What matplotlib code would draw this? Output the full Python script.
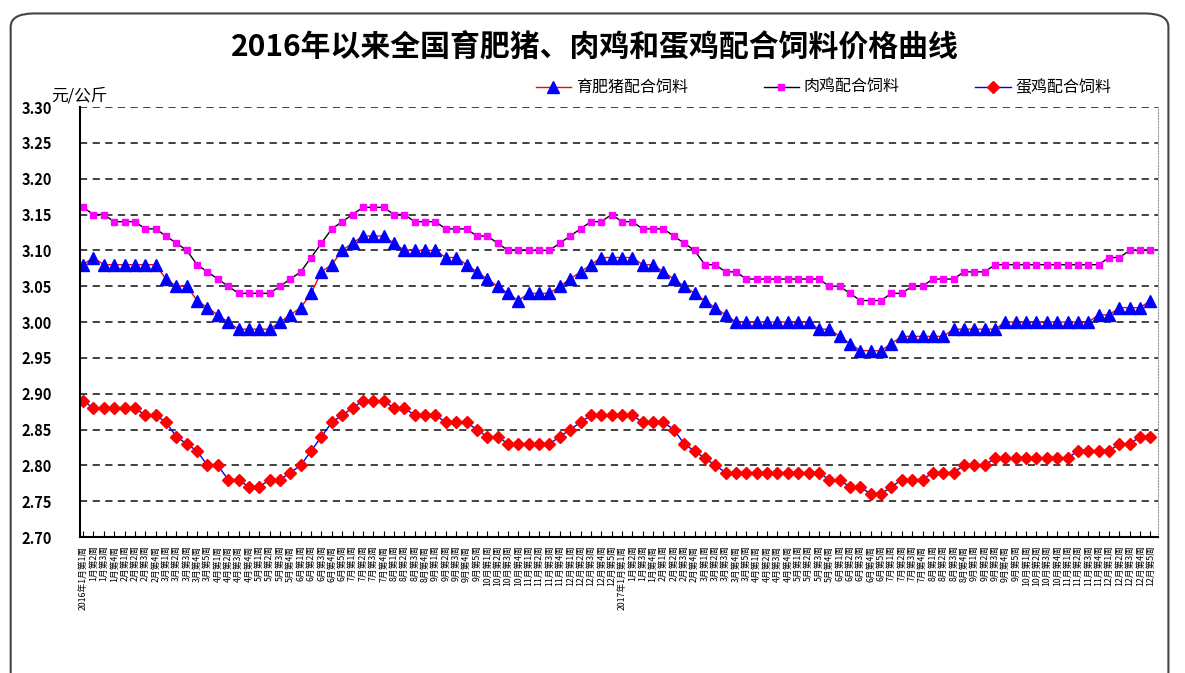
import matplotlib
matplotlib.use('Agg')
import matplotlib.pyplot as plt
from matplotlib.patches import FancyBboxPatch

plt.rcParams['font.family'] = ['Noto Sans CJK SC', 'DejaVu Sans']

# weekly prices, yuan/kg
pig = [3.08, 3.09, 3.08, 3.08, 3.08, 3.08, 3.08, 3.08, 3.06, 3.05,
       3.05, 3.03, 3.02, 3.01, 3.00, 2.99, 2.99, 2.99, 2.99, 3.00,
       3.01, 3.02, 3.04, 3.07, 3.08, 3.10, 3.11, 3.12, 3.12, 3.12,
       3.11, 3.10, 3.10, 3.10, 3.10, 3.09, 3.09, 3.08, 3.07, 3.06,
       3.05, 3.04, 3.03, 3.04, 3.04, 3.04, 3.05, 3.06, 3.07, 3.08,
       3.09, 3.09, 3.09, 3.09, 3.08, 3.08, 3.07, 3.06, 3.05, 3.04,
       3.03, 3.02, 3.01, 3.00, 3.00, 3.00, 3.00, 3.00, 3.00, 3.00,
       3.00, 2.99, 2.99, 2.98, 2.97, 2.96, 2.96, 2.96, 2.97, 2.98,
       2.98, 2.98, 2.98, 2.98, 2.99, 2.99, 2.99, 2.99, 2.99, 3.00,
       3.00, 3.00, 3.00, 3.00, 3.00, 3.00, 3.00, 3.00, 3.01, 3.01,
       3.02, 3.02, 3.02, 3.03]
broiler = [3.16, 3.15, 3.15, 3.14, 3.14, 3.14, 3.13, 3.13, 3.12, 3.11,
           3.10, 3.08, 3.07, 3.06, 3.05, 3.04, 3.04, 3.04, 3.04, 3.05,
           3.06, 3.07, 3.09, 3.11, 3.13, 3.14, 3.15, 3.16, 3.16, 3.16,
           3.15, 3.15, 3.14, 3.14, 3.14, 3.13, 3.13, 3.13, 3.12, 3.12,
           3.11, 3.10, 3.10, 3.10, 3.10, 3.10, 3.11, 3.12, 3.13, 3.14,
           3.14, 3.15, 3.14, 3.14, 3.13, 3.13, 3.13, 3.12, 3.11, 3.10,
           3.08, 3.08, 3.07, 3.07, 3.06, 3.06, 3.06, 3.06, 3.06, 3.06,
           3.06, 3.06, 3.05, 3.05, 3.04, 3.03, 3.03, 3.03, 3.04, 3.04,
           3.05, 3.05, 3.06, 3.06, 3.06, 3.07, 3.07, 3.07, 3.08, 3.08,
           3.08, 3.08, 3.08, 3.08, 3.08, 3.08, 3.08, 3.08, 3.08, 3.09,
           3.09, 3.10, 3.10, 3.10]
layer = [2.89, 2.88, 2.88, 2.88, 2.88, 2.88, 2.87, 2.87, 2.86, 2.84,
         2.83, 2.82, 2.80, 2.80, 2.78, 2.78, 2.77, 2.77, 2.78, 2.78,
         2.79, 2.80, 2.82, 2.84, 2.86, 2.87, 2.88, 2.89, 2.89, 2.89,
         2.88, 2.88, 2.87, 2.87, 2.87, 2.86, 2.86, 2.86, 2.85, 2.84,
         2.84, 2.83, 2.83, 2.83, 2.83, 2.83, 2.84, 2.85, 2.86, 2.87,
         2.87, 2.87, 2.87, 2.87, 2.86, 2.86, 2.86, 2.85, 2.83, 2.82,
         2.81, 2.80, 2.79, 2.79, 2.79, 2.79, 2.79, 2.79, 2.79, 2.79,
         2.79, 2.79, 2.78, 2.78, 2.77, 2.77, 2.76, 2.76, 2.77, 2.78,
         2.78, 2.78, 2.79, 2.79, 2.79, 2.80, 2.80, 2.80, 2.81, 2.81,
         2.81, 2.81, 2.81, 2.81, 2.81, 2.81, 2.82, 2.82, 2.82, 2.82,
         2.83, 2.83, 2.84, 2.84]

# weeks per month
weeks_2016 = [4, 4, 5, 4, 4, 5, 4, 4, 5, 4, 4, 5]
weeks_2017 = [4, 4, 5, 4, 4, 5, 4, 4, 5, 4, 4, 5]

labels = []
for year, weeks in (('2016年', weeks_2016), ('2017年', weeks_2017)):
    for m, n in enumerate(weeks):
        for w in range(n):
            lab = '%d月第%d周' % (m + 1, w + 1)
            if m == 0 and w == 0:
                lab = year + lab
            labels.append(lab)
labels = labels[:len(pig)]

fig = plt.figure(figsize=(11.85, 6.73), dpi=100)
ax = fig.add_axes([0.0675, 0.202, 0.9095, 0.639])

x = range(len(pig))
ax.plot(x, pig, color='red', lw=1, marker='^', markersize=8,
        markerfacecolor='blue', markeredgecolor='blue', label='育肥猪配合饲料')
ax.plot(x, broiler, color='black', lw=1, marker='s', markersize=4.5,
        markerfacecolor='#ff00ff', markeredgecolor='#ff00ff', label='肉鸡配合饲料')
ax.plot(x, layer, color='blue', lw=1, marker='D', markersize=6.5,
        markerfacecolor='red', markeredgecolor='red', label='蛋鸡配合饲料')

ax.set_ylim(2.70, 3.30)
ax.set_yticks([2.70 + 0.05 * i for i in range(13)])
ax.set_yticklabels(['%.2f' % (2.70 + 0.05 * i) for i in range(13)],
                   fontsize=10.5, fontweight='bold')
ax.set_xlim(-0.3, len(pig) - 0.3)
ax.set_xticks(list(x))
ax.set_xticklabels(labels, rotation=90, fontsize=6.3, va='top')
ax.tick_params(axis='x', direction='in', length=4, pad=6)
ax.tick_params(axis='y', length=0, pad=20)

ax.yaxis.grid(True, linestyle=(0, (4, 3)), color='#333333', lw=1.3)
ax.set_axisbelow(True)
ax.spines['top'].set_visible(False)
ax.spines['right'].set_linestyle(':')
ax.spines['right'].set_color('#999999')
ax.spines['left'].set_linewidth(1.5)
ax.spines['bottom'].set_linewidth(1.5)

ax.legend(loc='center', bbox_to_anchor=(0.69, 1.045), ncol=3, frameon=False,
          fontsize=11.5, handlelength=2.2, handletextpad=0.3, columnspacing=4.75)

fig.text(0.502, 0.93, '2016年以来全国育肥猪、肉鸡和蛋鸡配合饲料价格曲线',
         ha='center', va='center', fontsize=21.5, fontweight='bold')
fig.text(0.043, 0.858, '元/公斤', fontsize=12, style='italic', ha='left', va='center')

border = FancyBboxPatch((0.009, -0.05), 0.977, 1.03, transform=fig.transFigure,
                        boxstyle='round,pad=0,rounding_size=0.02', fill=False,
                        edgecolor='#444444', lw=1.5)
fig.patches.append(border)

fig.savefig('out.png', dpi=100)
